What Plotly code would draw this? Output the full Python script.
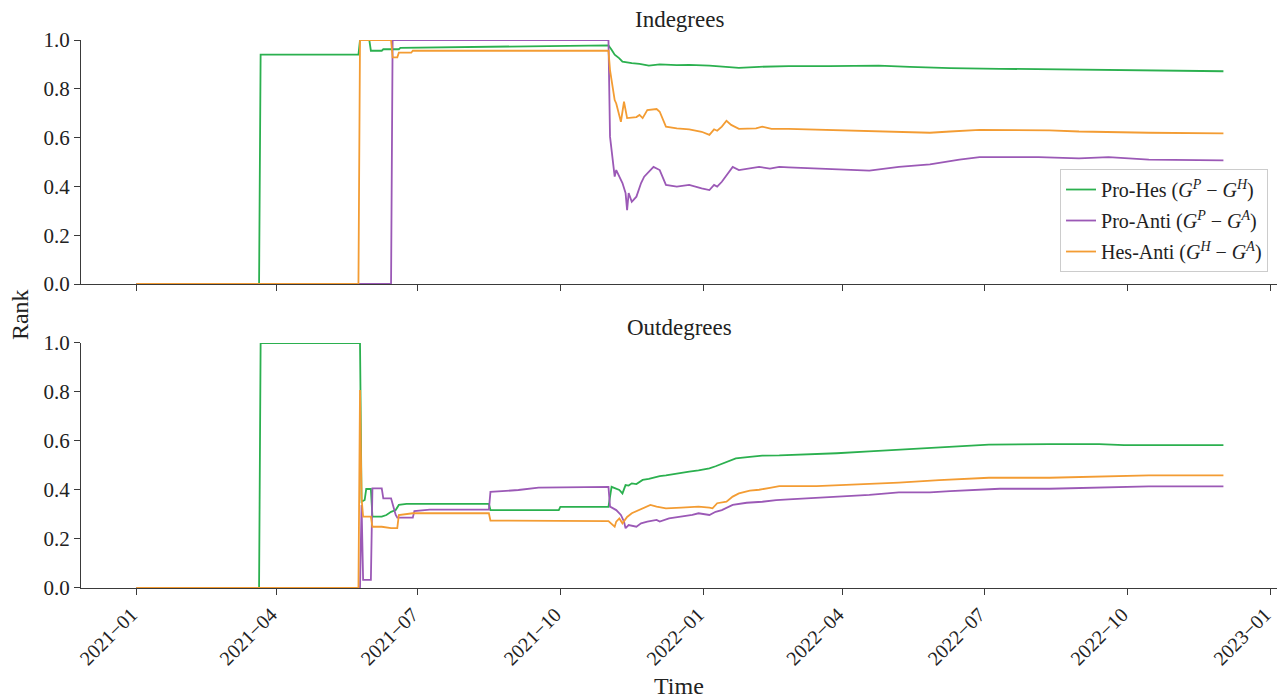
import plotly.graph_objects as go

# ---------------- data ----------------
tick_dates = ["2021-01-01", "2021-04-01", "2021-07-01", "2021-10-01", "2022-01-01",
              "2022-04-01", "2022-07-01", "2022-10-01", "2023-01-01"]
tick_labels = ["2021\u221201", "2021\u221204", "2021\u221207", "2021\u221210", "2022\u221201",
               "2022\u221204", "2022\u221207", "2022\u221210", "2023\u221201"]
y_ticks = [0.0, 0.2, 0.4, 0.6, 0.8, 1.0]
y_tick_labels = ["0.0", "0.2", "0.4", "0.6", "0.8", "1.0"]

series_names = ["Pro-Hes (<i>G</i><sup><i>P</i></sup> \u2212 <i>G</i><sup><i>H</i></sup>)",
                "Pro-Anti (<i>G</i><sup><i>P</i></sup> \u2212 <i>G</i><sup><i>A</i></sup>)",
                "Hes-Anti (<i>G</i><sup><i>H</i></sup> \u2212 <i>G</i><sup><i>A</i></sup>)"]
series_colors = ["#2bb04f", "#9b59b6", "#f39c33"]

# Indegrees: Pro-Hes
in_ph_dates = ["2021-01-01", "2021-03-21", "2021-03-22", "2021-05-24", "2021-05-25", "2021-05-31",
               "2021-06-01", "2021-06-08", "2021-06-09", "2021-06-19", "2021-06-20", "2021-07-15",
               "2021-08-22", "2021-09-17", "2021-10-26", "2021-11-01", "2021-11-03", "2021-11-05",
               "2021-11-08", "2021-11-10", "2021-11-16", "2021-11-21", "2021-11-27", "2021-12-04",
               "2021-12-15", "2021-12-23", "2022-01-05", "2022-01-18", "2022-01-24", "2022-02-06",
               "2022-02-25", "2022-03-23", "2022-04-05", "2022-04-24", "2022-05-14", "2022-06-09",
               "2022-07-11", "2022-08-12", "2022-09-13", "2022-10-15", "2022-11-10", "2022-12-02"]
in_ph_vals = [0, 0, 0.94, 0.94, 1.0, 1.0,
              0.956, 0.956, 0.962, 0.962, 0.968, 0.970,
              0.972, 0.975, 0.978, 0.978, 0.960, 0.940,
              0.925, 0.911, 0.905, 0.902, 0.895, 0.900,
              0.897, 0.898, 0.895, 0.888, 0.886, 0.890,
              0.893, 0.893, 0.895, 0.895, 0.890, 0.885,
              0.882, 0.880, 0.878, 0.875, 0.872, 0.872]

# Indegrees: Pro-Anti
in_pa_dates = ["2021-01-01", "2021-06-14", "2021-06-15", "2021-11-01", "2021-11-02", "2021-11-05",
               "2021-11-06", "2021-11-10", "2021-11-12", "2021-11-13", "2021-11-14", "2021-11-16",
               "2021-11-19", "2021-11-22", "2021-11-24", "2021-11-27", "2021-11-30", "2021-12-04",
               "2021-12-06", "2021-12-08", "2021-12-15", "2021-12-23", "2021-12-31", "2022-01-05",
               "2022-01-08", "2022-01-10", "2022-01-13", "2022-01-16", "2022-01-20", "2022-01-24",
               "2022-01-31", "2022-02-06", "2022-02-13", "2022-02-19", "2022-02-25", "2022-03-23",
               "2022-04-18", "2022-05-07", "2022-05-27", "2022-06-15", "2022-06-28", "2022-08-05",
               "2022-08-31", "2022-09-19", "2022-10-15", "2022-12-02"]
in_pa_vals = [0, 0, 1.0, 1.0, 0.604, 0.44,
              0.467, 0.414, 0.373, 0.303, 0.373, 0.337,
              0.358, 0.414, 0.44, 0.46, 0.48, 0.467,
              0.44, 0.406, 0.399, 0.406, 0.392, 0.385,
              0.406, 0.399, 0.419, 0.447, 0.48, 0.467,
              0.473, 0.48, 0.473, 0.48, 0.478, 0.472,
              0.465, 0.48, 0.49, 0.51, 0.52, 0.52,
              0.515, 0.52, 0.51, 0.507]

# Indegrees: Hes-Anti
in_ha_dates = ["2021-01-01", "2021-05-24", "2021-05-25", "2021-06-14", "2021-06-15", "2021-06-18",
               "2021-06-19", "2021-06-27", "2021-06-28", "2021-11-01", "2021-11-02", "2021-11-05",
               "2021-11-06", "2021-11-09", "2021-11-11", "2021-11-13", "2021-11-19", "2021-11-21",
               "2021-11-23", "2021-11-26", "2021-12-02", "2021-12-04", "2021-12-08", "2021-12-15",
               "2021-12-23", "2021-12-31", "2022-01-05", "2022-01-08", "2022-01-10", "2022-01-13",
               "2022-01-16", "2022-01-19", "2022-01-24", "2022-02-04", "2022-02-08", "2022-02-14",
               "2022-02-25", "2022-03-23", "2022-04-18", "2022-05-07", "2022-05-27", "2022-06-09",
               "2022-06-28", "2022-08-12", "2022-08-31", "2022-10-15", "2022-12-02"]
in_ha_vals = [0, 0, 1.0, 1.0, 0.929, 0.929,
              0.948, 0.948, 0.956, 0.956, 0.877, 0.754,
              0.74, 0.665, 0.747, 0.68, 0.684, 0.693,
              0.68, 0.713, 0.717, 0.706, 0.645, 0.638,
              0.634, 0.624, 0.611, 0.634, 0.628, 0.645,
              0.669, 0.652, 0.636, 0.638, 0.645, 0.636,
              0.636, 0.632, 0.625, 0.625, 0.62, 0.625,
              0.632, 0.63, 0.625, 0.62, 0.617]

# Outdegrees: Pro-Hes
out_ph_dates = ["2021-01-01", "2021-03-21", "2021-03-22", "2021-05-25", "2021-05-26", "2021-05-28",
                "2021-05-29", "2021-06-01", "2021-06-02", "2021-06-08", "2021-06-11", "2021-06-14",
                "2021-06-17", "2021-06-19", "2021-06-24", "2021-08-16", "2021-08-17", "2021-09-30",
                "2021-10-01", "2021-11-01", "2021-11-03", "2021-11-08", "2021-11-10", "2021-11-12",
                "2021-11-14", "2021-11-16", "2021-11-19", "2021-11-23", "2021-11-27", "2021-12-04",
                "2021-12-08", "2021-12-15", "2021-12-23", "2021-12-29", "2022-01-05", "2022-01-09",
                "2022-01-16", "2022-01-22", "2022-01-31", "2022-02-08", "2022-02-19", "2022-03-02",
                "2022-03-15", "2022-03-28", "2022-04-18", "2022-05-14", "2022-06-09", "2022-07-04",
                "2022-08-12", "2022-09-13", "2022-09-29", "2022-12-02"]
out_ph_vals = [0, 0, 1.0, 1.0, 0.352, 0.359,
               0.404, 0.404, 0.291, 0.291, 0.298, 0.311,
               0.318, 0.339, 0.343, 0.343, 0.318, 0.318,
               0.331, 0.331, 0.413, 0.40, 0.386, 0.42,
               0.418, 0.427, 0.424, 0.441, 0.445, 0.457,
               0.46, 0.468, 0.475, 0.48, 0.488, 0.497,
               0.516, 0.529, 0.535, 0.54, 0.541, 0.543,
               0.547, 0.55, 0.558, 0.568, 0.575, 0.585,
               0.587, 0.587, 0.583, 0.583]

# Outdegrees: Pro-Anti
out_pa_dates = ["2021-01-01", "2021-05-25", "2021-05-26", "2021-05-27", "2021-06-01", "2021-06-02",
                "2021-06-08", "2021-06-09", "2021-06-14", "2021-06-17", "2021-06-18", "2021-06-28",
                "2021-06-29", "2021-07-09", "2021-08-16", "2021-08-17", "2021-09-04", "2021-09-17",
                "2021-11-01", "2021-11-02", "2021-11-06", "2021-11-09", "2021-11-11", "2021-11-12",
                "2021-11-14", "2021-11-19", "2021-11-22", "2021-11-26", "2021-12-02", "2021-12-04",
                "2021-12-10", "2021-12-17", "2021-12-25", "2021-12-29", "2022-01-05", "2022-01-09",
                "2022-01-13", "2022-01-20", "2022-01-29", "2022-02-08", "2022-02-17", "2022-02-25",
                "2022-03-08", "2022-03-19", "2022-03-30", "2022-04-18", "2022-05-07", "2022-05-27",
                "2022-06-09", "2022-06-28", "2022-07-11", "2022-08-12", "2022-09-13", "2022-10-15",
                "2022-12-02"]
out_pa_vals = [0, 0, 0.339, 0.033, 0.033, 0.407,
               0.407, 0.366, 0.366, 0.298, 0.287, 0.287,
               0.314, 0.32, 0.32, 0.392, 0.40, 0.41,
               0.413, 0.332, 0.318, 0.298, 0.271, 0.244,
               0.257, 0.25, 0.264, 0.271, 0.278, 0.271,
               0.284, 0.29, 0.298, 0.305, 0.298, 0.311,
               0.318, 0.339, 0.348, 0.352, 0.359, 0.362,
               0.366, 0.37, 0.373, 0.38, 0.39, 0.39,
               0.395, 0.40, 0.405, 0.405, 0.41, 0.415,
               0.415]

# Outdegrees: Hes-Anti
out_ha_dates = ["2021-01-01", "2021-05-24", "2021-05-25", "2021-05-26", "2021-05-27", "2021-06-01",
                "2021-06-02", "2021-06-08", "2021-06-14", "2021-06-18", "2021-06-19", "2021-06-28",
                "2021-08-16", "2021-08-17", "2021-11-01", "2021-11-05", "2021-11-06", "2021-11-08",
                "2021-11-10", "2021-11-13", "2021-11-16", "2021-11-23", "2021-11-28", "2021-12-02",
                "2021-12-08", "2021-12-18", "2021-12-29", "2022-01-05", "2022-01-07", "2022-01-10",
                "2022-01-16", "2022-01-20", "2022-01-24", "2022-01-31", "2022-02-06", "2022-02-13",
                "2022-02-19", "2022-03-15", "2022-03-30", "2022-04-18", "2022-05-07", "2022-06-02",
                "2022-07-04", "2022-08-12", "2022-09-13", "2022-10-15", "2022-12-02"]
out_ha_vals = [0, 0, 0.808, 0.367, 0.291, 0.291,
               0.25, 0.25, 0.244, 0.244, 0.298, 0.305,
               0.305, 0.275, 0.273, 0.25, 0.271, 0.284,
               0.264, 0.29, 0.305, 0.325, 0.339, 0.332,
               0.325, 0.328, 0.332, 0.328, 0.325, 0.346,
               0.352, 0.373, 0.386, 0.397, 0.401, 0.409,
               0.416, 0.416, 0.42, 0.425, 0.43, 0.44,
               0.45, 0.45, 0.455, 0.46, 0.46]

# ---------------- figure ----------------
FONT = "Liberation Serif"
AX = "#3a3a3a"

fig = go.Figure()
top = [(in_ph_dates, in_ph_vals), (in_pa_dates, in_pa_vals), (in_ha_dates, in_ha_vals)]
bottom = [(out_ph_dates, out_ph_vals), (out_pa_dates, out_pa_vals), (out_ha_dates, out_ha_vals)]
for i, (d, v) in enumerate(top):
    fig.add_trace(go.Scatter(x=d, y=v, mode="lines", name=series_names[i],
                             line=dict(color=series_colors[i], width=1.8),
                             legendgroup=str(i), showlegend=True, xaxis="x", yaxis="y"))
for i, (d, v) in enumerate(bottom):
    fig.add_trace(go.Scatter(x=d, y=v, mode="lines", name=series_names[i],
                             line=dict(color=series_colors[i], width=1.8),
                             legendgroup=str(i), showlegend=False, xaxis="x2", yaxis="y2"))

xcommon = dict(range=["2020-11-26 08:00", "2023-01-05 12:00"], type="date", showgrid=False,
               zeroline=False, showline=True, linecolor=AX, linewidth=1.2, ticks="outside",
               ticklen=6, tickcolor=AX, tickwidth=1.2, tickvals=tick_dates, ticktext=tick_labels,
               automargin=False, ticklabeloverflow="allow",
               tickfont=dict(family=FONT, size=20, color="#222"))
ycommon = dict(range=[0, 1], showgrid=False, zeroline=False, showline=True, linecolor=AX,
               linewidth=1.2, ticks="outside", ticklen=6, tickcolor=AX, tickwidth=1.2,
               tickvals=y_ticks, ticktext=y_tick_labels, automargin=False,
               tickfont=dict(family=FONT, size=21, color="#222"))

fig.update_layout(
    width=1277, height=699, template="none",
    paper_bgcolor="white", plot_bgcolor="white",
    margin=dict(l=81, r=0, t=40, b=111),
    font=dict(family=FONT, color="#222"),
    xaxis=dict(**xcommon, anchor="y", showticklabels=False, matches="x2"),
    xaxis2=dict(**xcommon, anchor="y2", tickangle=-45, ticklabelshift=-5),
    yaxis=dict(**ycommon, domain=[0.5547, 1.0], anchor="x"),
    yaxis2=dict(**ycommon, domain=[0.0, 0.4471], anchor="x2"),
    legend=dict(x=0.9925, y=0.5766, xanchor="right", yanchor="bottom",
                bgcolor="rgba(255,255,255,0.9)", bordercolor="#cccccc", borderwidth=1,
                font=dict(family=FONT, size=20, color="#222"), tracegroupgap=2),
    annotations=[
        dict(text="Indegrees", x=0.5, y=1.0365, xref="paper", yref="paper", showarrow=False,
             xanchor="center", yanchor="middle", font=dict(family=FONT, size=23, color="#222")),
        dict(text="Outdegrees", x=0.5, y=0.4745, xref="paper", yref="paper", showarrow=False,
             xanchor="center", yanchor="middle", font=dict(family=FONT, size=23, color="#222")),
        dict(text="Rank", x=-0.0510, y=0.498, xref="paper", yref="paper", showarrow=False,
             textangle=-90, xanchor="center", yanchor="middle",
             font=dict(family=FONT, size=24, color="#222")),
        dict(text="Time", x=0.5, y=-0.1788, xref="paper", yref="paper", showarrow=False,
             xanchor="center", yanchor="middle", font=dict(family=FONT, size=24, color="#222")),
    ],
)

fig.write_html("out.html", config={"displayModeBar": False},
               post_script="document.body.style.margin='0';document.body.style.overflow='hidden';")
